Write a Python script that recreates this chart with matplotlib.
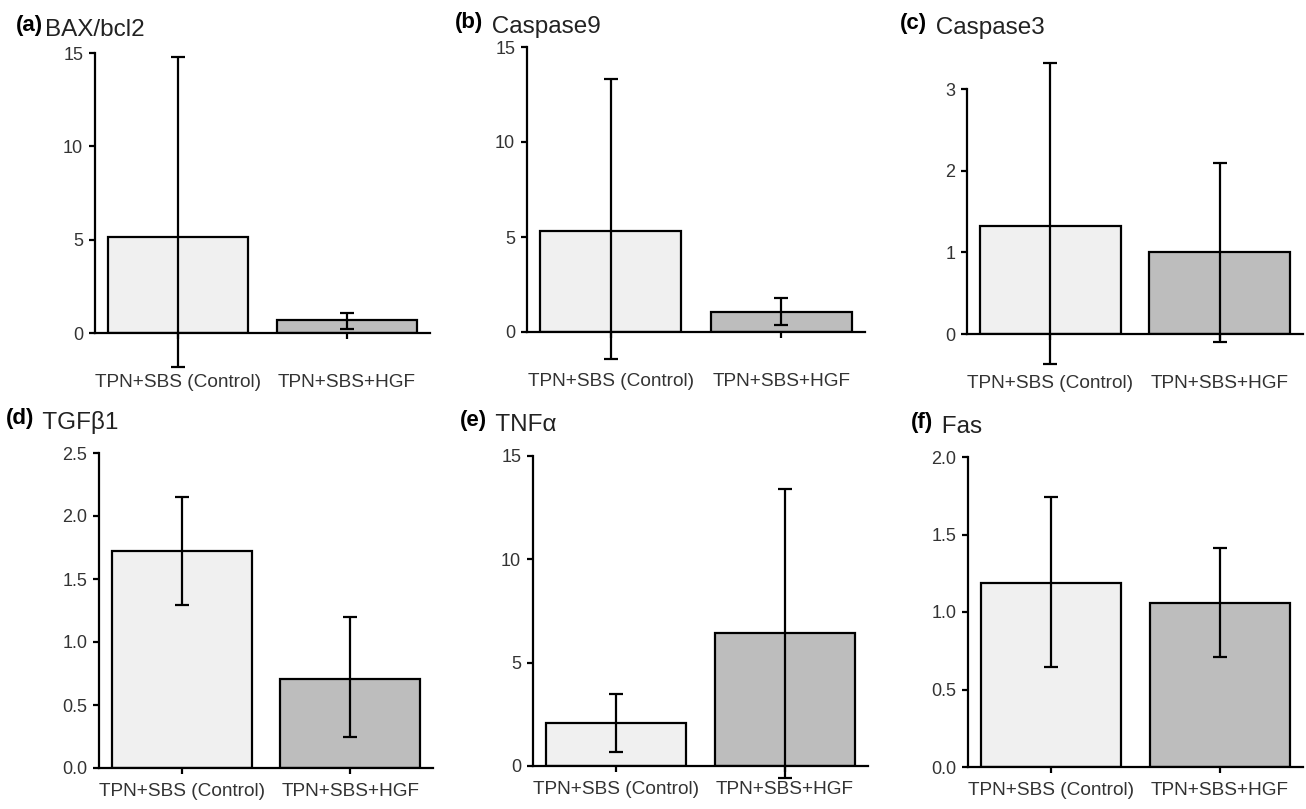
import numpy as np
import matplotlib
matplotlib.use('Agg')
import matplotlib.pyplot as plt

plt.rcParams['font.family'] = ['Liberation Sans', 'DejaVu Sans']

# panel data
letters = ['(a)', '(b)', '(c)', '(d)', '(e)', '(f)']
names = ['BAX/bcl2', ' Caspase9', ' Caspase3', ' TGFβ1', ' TNFα', ' Fas']
groups = ['TPN+SBS (Control)', 'TPN+SBS+HGF']

control_mean = [5.15, 5.32, 1.32, 1.72, 2.08, 1.19]
hgf_mean = [0.70, 1.05, 1.00, 0.71, 6.43, 1.06]
control_hi = [14.8, 13.3, 3.32, 2.15, 3.48, 1.74]
control_lo = [-1.8, -1.4, -0.37, 1.29, 0.68, 0.645]
hgf_hi = [1.07, 1.80, 2.10, 1.20, 13.4, 1.41]
hgf_lo = [0.22, 0.37, -0.10, 0.25, -0.58, 0.71]

yticks = [[0, 5, 10, 15], [0, 5, 10, 15], [0, 1, 2, 3],
          [0, 0.5, 1.0, 1.5, 2.0, 2.5], [0, 5, 10, 15], [0, 0.5, 1.0, 1.5, 2.0]]
ytick_labels = [['0', '5', '10', '15'], ['0', '5', '10', '15'], ['0', '1', '2', '3'],
                ['0.0', '0.5', '1.0', '1.5', '2.0', '2.5'], ['0', '5', '10', '15'],
                ['0.0', '0.5', '1.0', '1.5', '2.0']]

W, H = 1306, 809
# axes boxes in pixels: left, right, y of zero, y of top tick
boxes = [(95, 430, 333, 53), (527, 865, 332, 47), (967, 1303, 334, 89),
         (99, 433, 768, 453), (533, 868, 766, 456), (968, 1303, 767, 457)]
# title anchor in pixels: x, baseline y
title_pos = [(16, 31), (455, 28), (900, 29), (6, 424), (460, 426), (911, 428)]

fig = plt.figure(figsize=(W / 100, H / 100), dpi=100)

for i in range(6):
    l, r, y0, yt = boxes[i]
    ax = fig.add_axes([l / W, 1 - y0 / H, (r - l) / W, (y0 - yt) / H])
    x = np.arange(2)
    means = np.array([control_mean[i], hgf_mean[i]])
    hi = np.array([control_hi[i], hgf_hi[i]])
    lo = np.array([control_lo[i], hgf_lo[i]])
    ax.bar(x, means, width=0.83, color=['#f0f0f0', '#bdbdbd'],
           edgecolor='black', linewidth=1.6, zorder=2)
    eb = ax.errorbar(x, means, yerr=[means - lo, hi - means], fmt='none',
                     ecolor='black', elinewidth=1.6, capsize=5, capthick=1.6,
                     zorder=3)
    for art in list(eb.lines[1]) + list(eb.lines[2]):
        art.set_clip_on(False)

    ax.set_xlim(-0.49, 1.49)
    ax.set_ylim(0, yticks[i][-1])
    ax.set_yticks(yticks[i])
    ax.set_yticklabels(ytick_labels[i])
    ax.set_xticks(x)
    ax.set_xticklabels(groups)

    for s in ['top', 'right']:
        ax.spines[s].set_visible(False)
    for s in ['left', 'bottom']:
        ax.spines[s].set_linewidth(1.6)
    xpad = 25 if i < 3 else 6
    ax.tick_params(axis='y', direction='out', length=4.5, width=1.6,
                   labelsize=13, labelcolor='#333333', pad=4)
    ax.tick_params(axis='x', direction='out', length=4.5, width=1.6,
                   labelsize=13.7, labelcolor='#333333', pad=xpad)
    ax.patch.set_visible(False)

    tx, ty = title_pos[i]
    t = fig.text(tx / W, 1 - ty / H, letters[i], fontsize=16,
                 fontweight='bold', ha='left', va='baseline')
    ax.annotate(names[i], xy=(1, 0), xycoords=t, xytext=(1.5, 0),
                textcoords='offset points', fontsize=17.5, ha='left',
                va='baseline', color='#222222', annotation_clip=False)

fig.savefig('out.png', dpi=100)
